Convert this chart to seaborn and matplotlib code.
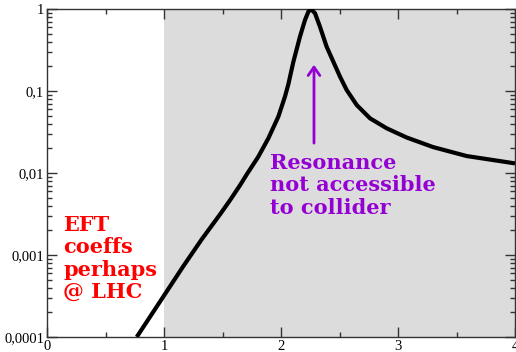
import matplotlib
matplotlib.use("Agg")
import matplotlib.pyplot as plt
import matplotlib.ticker as mticker
import seaborn as sns
import pandas as pd
import numpy as np

# ---- data ----
x_vals = [0.767, 1.0, 1.165, 1.322, 1.479, 1.564, 1.65, 1.707, 1.806, 1.892, 1.977,
          2.034, 2.063, 2.105, 2.162, 2.205, 2.234, 2.256, 2.291, 2.333, 2.39, 2.447,
          2.504, 2.561, 2.647, 2.761, 2.903, 3.074, 3.3, 3.587, 4.0]
y_vals = [1e-4, 3.2e-4, 7.3e-4, 1.55e-3, 3.13e-3, 4.65e-3, 7.1e-3, 9.6e-3, 0.0158,
          0.0265, 0.0486, 0.0855, 0.121, 0.225, 0.459, 0.734, 0.927, 1.0, 0.886, 0.608,
          0.347, 0.228, 0.150, 0.103, 0.0675, 0.0464, 0.0351, 0.0271, 0.0207, 0.0161,
          0.0131]
xtick_vals = [0, 1, 2, 3, 4]
xtick_labels = ["0", "1", "2", "3", "4"]
ytick_vals = [1e-4, 1e-3, 1e-2, 1e-1, 1]
ytick_labels = ["0,0001", "0,001", "0,01", "0,1", "1"]
shade_range = (1, 4)
red_text = "EFT\ncoeffs\nperhaps\n@ LHC"
purple_text = "Resonance\nnot accessible\nto collider"

sns.set_theme(style="ticks")
plt.rcParams["font.family"] = ["Liberation Serif", "DejaVu Serif"]

fig = plt.figure(figsize=(5.16, 3.52), dpi=100)
ax = fig.add_axes([47 / 516, 1 - 337 / 352, (515 - 47) / 516, (337 - 9) / 352])
ax.set_facecolor("white")

df = pd.DataFrame({"x": x_vals, "y": y_vals})
ax.axvspan(*shade_range, color="#dcdcdc", zorder=0, lw=0)
sns.lineplot(data=df, x="x", y="y", ax=ax, color="black", lw=3,
             estimator=None, sort=False, zorder=3,
             solid_joinstyle="round", solid_capstyle="butt")

ax.set_yscale("log")
ax.set_xlim(0, 4)
ax.set_ylim(1e-4, 1)
ax.set_xlabel("")
ax.set_ylabel("")

ax.set_xticks(xtick_vals)
ax.set_xticklabels(xtick_labels)
ax.xaxis.set_minor_locator(mticker.MultipleLocator(0.5))
ax.set_yticks(ytick_vals)
ax.set_yticklabels(ytick_labels)
ax.yaxis.set_minor_locator(mticker.LogLocator(base=10, subs=np.arange(2, 10)))
ax.yaxis.set_minor_formatter(mticker.NullFormatter())

ax.tick_params(which="both", direction="in", top=True, right=True,
               colors="#333333", labelcolor="black", labelsize=10.5, width=1, pad=2)
ax.tick_params(which="major", length=7)
ax.tick_params(which="minor", length=3.5)
for s in ax.spines.values():
    s.set_color("#333333")
    s.set_linewidth(1)
    s.set_visible(True)

ax.text(0.137, 3.08e-3, red_text, color="#ff0000", fontsize=15, fontweight="bold",
        family="DejaVu Serif", va="top", ha="left", linespacing=1.15, zorder=4)
ax.text(1.906, 0.0175, purple_text, color="#9400d3", fontsize=15, fontweight="bold",
        family="DejaVu Serif", va="top", ha="left", linespacing=1.15, zorder=4)
ax.annotate("", xy=(2.282, 0.226), xytext=(2.282, 0.0214),
            arrowprops=dict(arrowstyle="->,head_length=0.5,head_width=0.35",
                            color="#9400d3", lw=2), zorder=4)

fig.savefig("out.png", dpi=100)
